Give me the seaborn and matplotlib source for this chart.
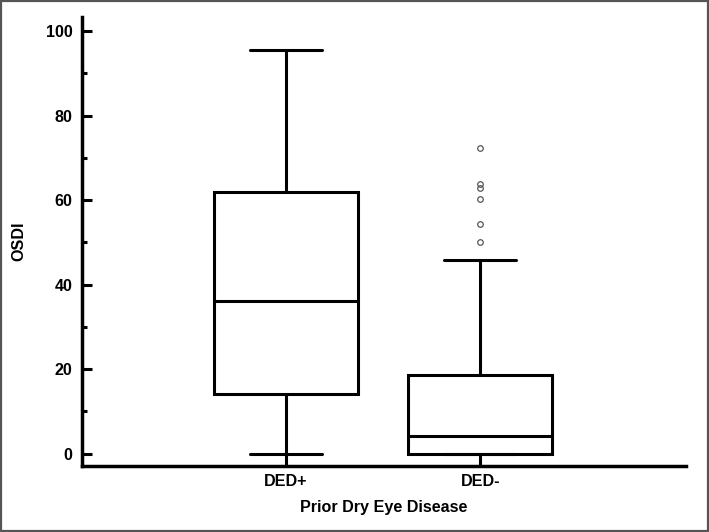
import numpy as np
import pandas as pd
import matplotlib
matplotlib.use("Agg")
import matplotlib.pyplot as plt
from matplotlib.patches import Rectangle
from matplotlib.ticker import MultipleLocator
import seaborn as sns

# OSDI scores (chosen so the box stats match)
groups = ["DED+", "DED-"]
osdi_ded_pos = [0, 14.2, 36.2, 61.8, 95.4]
osdi_ded_neg = [0, 0, 0, 0, 0, 0, 0, 0,
                0.5, 1, 1.5, 2, 2.5, 3,
                4.1,
                6, 8, 10, 12, 14, 16,
                18.7, 45.9,
                50.1, 54.4, 60.3, 62.8, 63.8, 72.4]

df = pd.DataFrame({
    "group": ["DED+"] * len(osdi_ded_pos) + ["DED-"] * len(osdi_ded_neg),
    "osdi": osdi_ded_pos + osdi_ded_neg,
})

sns.set_style("white")
plt.rcParams["font.family"] = ["Liberation Sans", "DejaVu Sans"]
plt.rcParams["font.weight"] = "bold"
plt.rcParams["text.color"] = "black"
plt.rcParams["axes.labelcolor"] = "black"
plt.rcParams["xtick.color"] = "black"
plt.rcParams["ytick.color"] = "black"
plt.rcParams["xtick.direction"] = "in"
plt.rcParams["ytick.direction"] = "in"
plt.rcParams["xtick.bottom"] = True
plt.rcParams["ytick.left"] = True
plt.rcParams["ytick.minor.visible"] = True

fig = plt.figure(figsize=(7.09, 5.32), dpi=100)
ax = fig.add_axes([82 / 709, 1 - 466 / 532, (686 - 82) / 709, (466 - 17) / 532])

lw = 2.2
sns.boxplot(
    data=df, x="group", y="osdi", order=groups, ax=ax,
    color="white", linecolor="black", linewidth=lw, width=0.74,
    whis=1.5,
    flierprops=dict(marker="o", markersize=4, markerfacecolor="none",
                    markeredgecolor="#555555", markeredgewidth=0.9),
)

ax.set_xlim(-1.05, 2.06)
ax.set_ylim(-2.9, 103.3)
ax.yaxis.set_major_locator(MultipleLocator(20))
ax.yaxis.set_minor_locator(MultipleLocator(10))

for side in ["top", "right"]:
    ax.spines[side].set_visible(False)
for side in ["left", "bottom"]:
    ax.spines[side].set_linewidth(2.5)
    ax.spines[side].set_color("black")
    ax.spines[side].set_capstyle("projecting")

ax.tick_params(axis="y", which="major", direction="in", length=7, width=2.2,
               labelsize=11.6, pad=7, left=True, right=False, colors="black")
ax.tick_params(axis="y", which="minor", direction="in", length=3.5, width=2.2,
               left=True, right=False, colors="black")
ax.tick_params(axis="x", which="major", direction="in", length=8.5, width=2.2,
               labelsize=11.6, pad=6, bottom=True, top=False, colors="black")
ax.tick_params(axis="x", which="minor", bottom=False, top=False)
for lab in ax.get_xticklabels() + ax.get_yticklabels():
    lab.set_fontweight("bold")

ax.set_xlabel("Prior Dry Eye Disease", fontsize=11.6, fontweight="bold", labelpad=8)
ax.set_ylabel("OSDI", fontsize=11.6, fontweight="bold", labelpad=14)

# grey frame round the whole figure
fig.patches.append(Rectangle((0.001, 0.001), 0.997, 0.997, transform=fig.transFigure,
                             fill=False, edgecolor="#555555", linewidth=1.6))

fig.savefig("out.png", dpi=100)
